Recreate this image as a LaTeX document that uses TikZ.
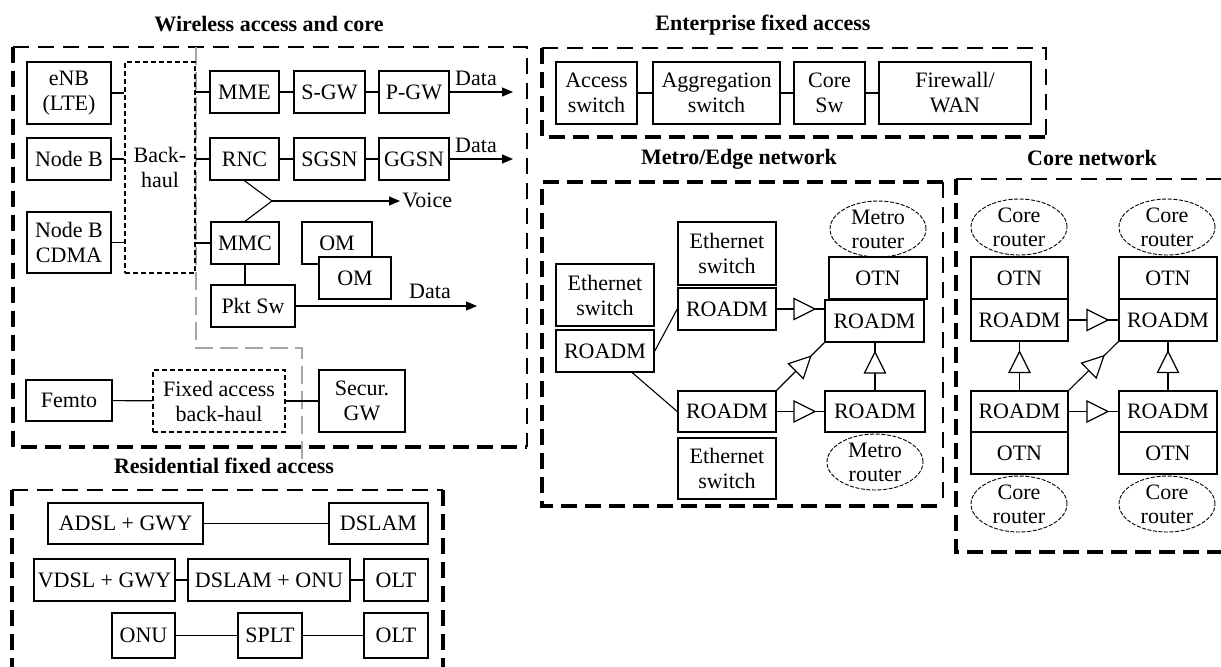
\documentclass[tikz,border=0pt]{standalone}
\usepackage{fontspec}
\setmainfont{Liberation Serif}
\usetikzlibrary{shapes.geometric,arrows.meta,calc}
\newcommand{\mybox}[7][bx]{\node[#1, minimum width={(#5-#3)*0.5pt}, minimum height={(#6-#4)*0.5pt}] (#2) at ({(#3+#5)/2},{(#4+#6)/2}) {#7};}
\begin{document}
\begin{tikzpicture}[x=0.5pt,y=-0.5pt, font=\fontsize{11}{12.5}\selectfont,
  bx/.style={draw, line width=0.75pt, align=center, inner sep=0pt},
  dbx/.style={draw, line width=0.6pt, dash pattern=on 2.5pt off 1.5pt, align=center, inner sep=0pt},
  ttl/.style={font=\fontsize{11}{13.5}\selectfont\bfseries, anchor=base, inner sep=0pt},
  lbl/.style={anchor=base, inner sep=0pt},
  lnk/.style={line width=0.55pt},
  arr/.style={line width=0.55pt, -{Triangle[length=5.5pt,width=4.5pt]}},
  thk/.style={line width=1.7pt, dash pattern=on 8pt off 4pt},
  thn/.style={line width=0.8pt, dash pattern=on 8pt off 4.5pt},
  gry/.style={line width=1.4pt, draw=black!35, dash pattern=on 9pt off 3.5pt},
  ell/.style={ellipse, draw, line width=0.45pt, dash pattern=on 2pt off 0.8pt, inner sep=0pt, minimum width=48pt, minimum height=28pt},
  etx/.style={align=center, inner sep=0pt, font=\fontsize{11}{12}\selectfont},
  amp/.style={isosceles triangle, draw, fill=white, line width=0.6pt, inner sep=0pt, minimum width=10.5pt, minimum height=10.5pt, isosceles triangle stretches, sloped, pos=0.5},
]
\path[use as bounding box] (0,0) rectangle (1221,666);
\clip (0,0) rectangle (1221,666);

% ---------- group frames ----------
\draw[thn] (13,47) -- (527,47) -- (527,447);
\draw[thk] (13,47) -- (13,447) -- (527,447);
\draw[gry] (196,47) -- (196,348) -- (302,348) -- (302,460);
\draw[thn] (542,48) -- (1046,48) -- (1046,137);
\draw[thk] (542,48) -- (542,137) -- (1046,137);
\draw[thk] (943,182) -- (542,182) -- (542,506) -- (943,506);
\draw[thn] (943,182) -- (943,506);
\draw[thn] (956,179) -- (1240,179);
\draw[thk] (956,179) -- (956,552) -- (1240,552);
\draw[thn] (12,490) -- (443,490);
\draw[thk] (12,490) -- (12,690);
\draw[thk] (443,490) -- (443,690);

% ---------- titles ----------
\node[ttl] (t1) at (269,31) {Wireless access and core};
\node[ttl] (t2) at (763,30) {Enterprise fixed access};
\node[ttl] (t3) at (739,164) {Metro/Edge network};
\node[ttl] (t4) at (1092,165) {Core network};
\node[ttl] (t5) at (224,473) {Residential fixed access};

% ---------- wireless access and core ----------
\mybox{enb}{27}{62}{111}{124}{eNB\\(LTE)}
\mybox{nb}{27}{138}{111}{180}{Node B}
\mybox{nbc}{27}{212}{111}{273}{Node B\\CDMA}
\mybox[dbx]{bh}{125}{62}{195}{273}{Back-\\haul}
\mybox{mme}{210}{71}{279}{113}{MME}
\mybox{sgw}{294}{71}{365}{113}{S-GW}
\mybox{pgw}{379}{71}{449}{113}{P-GW}
\mybox{rnc}{210}{138}{279}{180}{RNC}
\mybox{sgsn}{294}{138}{365}{180}{SGSN}
\mybox{ggsn}{379}{138}{449}{180}{GGSN}
\mybox{mmc}{211}{222}{279}{264}{MMC}
\mybox{pkt}{211}{285}{295}{327}{Pkt Sw}
\mybox{omA}{302}{222}{372}{264}{OM}
\mybox[bx,fill=white]{omB}{319}{257}{391}{299}{OM}
\mybox{femto}{26}{380}{112}{421}{Femto}
\mybox[dbx]{fab}{153}{370}{285}{432}{Fixed access\\back-haul}
\mybox{secgw}{319}{370}{405}{432}{Secur.\\GW}

\draw[lnk] (enb.east) -- (enb.east -| bh.west);
\draw[lnk] (nb.east) -- (nb.east -| bh.west);
\draw[lnk] (nbc.east) -- (nbc.east -| bh.west);
\draw[lnk] (mme.west -| bh.east) -- (mme.west);
\draw[lnk] (rnc.west -| bh.east) -- (rnc.west);
\draw[lnk] (mmc.west -| bh.east) -- (mmc.west);
\draw[lnk] (mme) -- (sgw);
\draw[lnk] (sgw) -- (pgw);
\draw[lnk] (rnc) -- (sgsn);
\draw[lnk] (sgsn) -- (ggsn);
\coordinate (d1) at (513,92);
\coordinate (d2) at (513,159);
\coordinate (d3) at (477,306);
\coordinate (vj) at (272,201);
\coordinate (vo) at (400,201);
\draw[arr] (pgw.east) -- (d1);
\draw[arr] (ggsn.east) -- (d2);
\draw[lnk] (rnc.south) -- (vj) -- (mmc.north);
\draw[arr] (vj) -- (vo);
\draw[lnk] (mmc.south) -- (mmc.south |- pkt.north);
\draw[arr] (pkt.east) -- (d3);
\draw[lnk] (femto) -- (fab);
\draw[lnk] (fab) -- (secgw);
\node[lbl] (dl1) at (476,85) {Data};
\node[lbl] (dl2) at (476,152) {Data};
\node[lbl] (dl3) at (430,298) {Data};
\node[lbl, anchor=base west] (vl) at (402,207) {Voice};

% ---------- enterprise ----------
\mybox{acc}{556}{62}{637}{124}{Access\\switch}
\mybox{agg}{653}{62}{780}{124}{Aggregation\\switch}
\mybox{csw}{794}{62}{865}{124}{Core\\Sw}
\mybox{fw}{879}{62}{1031}{124}{Firewall/\\WAN}
\draw[lnk] (acc) -- (agg);
\draw[lnk] (agg) -- (csw);
\draw[lnk] (csw) -- (fw);

% ---------- metro ----------
\mybox{esA}{556}{264}{654}{326}{Ethernet\\switch}
\mybox{rl}{556}{330}{654}{372}{ROADM}
\mybox{esB}{678}{222}{776}{285}{Ethernet\\switch}
\mybox{rtm}{678}{288}{776}{330}{ROADM}
\mybox{otnm}{829}{257}{927}{299}{OTN}
\mybox{rr}{825}{300}{924}{342}{ROADM}
\mybox{rbm}{678}{391}{776}{432}{ROADM}
\mybox{esC}{678}{438}{776}{499}{Ethernet\\switch}
\mybox{rbr}{825}{391}{925}{432}{ROADM}
\node[ell] (mrA) at (878,229) {};
\node[etx] (mrAt) at (mrA) {Metro\\router};
\node[ell] (mrB) at (875,462) {};
\node[etx] (mrBt) at (mrB) {Metro\\router};
\draw[lnk] (rl.east) -- (rtm.west);
\draw[lnk] ($(rl.south)!0.55!(rl.south east)$) -- (rbm.west);
\draw[lnk] (rtm.east) -- node[amp]{} (rtm.east -| rr.west);
\draw[lnk] (rbm.east) -- node[amp]{} (rbr.west);
\draw[lnk] (rbm.north east) -- node[amp]{} (rr.south west);
\draw[lnk] (rbr.north) -- node[amp]{} (rbr.north |- rr.south);

% ---------- core ----------
\node[ell] (crA) at (1019,227) {};
\node[etx] (crAt) at (crA) {Core\\router};
\node[ell] (crB) at (1167,227) {};
\node[etx] (crBt) at (crB) {Core\\router};
\node[ell] (crC) at (1019,504) {};
\node[etx] (crCt) at (crC) {Core\\router};
\node[ell] (crD) at (1167,504) {};
\node[etx] (crDt) at (crD) {Core\\router};
\mybox{cotnA}{971}{257}{1068}{299}{OTN}
\mybox{crdA}{971}{299}{1068}{341}{ROADM}
\mybox{cotnB}{1119}{257}{1217}{299}{OTN}
\mybox{crdB}{1119}{299}{1217}{341}{ROADM}
\mybox{crdC}{971}{391}{1068}{432}{ROADM}
\mybox{cotnC}{971}{432}{1068}{474}{OTN}
\mybox{crdD}{1119}{391}{1217}{432}{ROADM}
\mybox{cotnD}{1119}{432}{1217}{474}{OTN}
\draw[lnk] (crdA.east) -- node[amp]{} (crdB.west);
\draw[lnk] (crdC.east) -- node[amp]{} (crdD.west);
\draw[lnk] (crdC.north) -- node[amp]{} (crdA.south);
\draw[lnk] (crdD.north) -- node[amp]{} (crdB.south);
\draw[lnk] (crdC.north east) -- node[amp]{} (crdB.south west);

% ---------- residential ----------
\mybox{adsl}{48}{503}{203}{544}{ADSL + GWY}
\mybox{dslam}{329}{503}{428}{544}{DSLAM}
\mybox{vdsl}{34}{559}{175}{601}{VDSL + GWY}
\mybox{dsonu}{188}{559}{350}{601}{DSLAM + ONU}
\mybox{oltA}{364}{559}{428}{601}{OLT}
\mybox{onu}{112}{613}{175}{658}{ONU}
\mybox{splt}{238}{613}{302}{658}{SPLT}
\mybox{oltB}{364}{613}{428}{658}{OLT}
\draw[lnk] (adsl) -- (dslam);
\draw[lnk] (vdsl) -- (dsonu);
\draw[lnk] (dsonu) -- (oltA);
\draw[lnk] (onu) -- (splt);
\draw[lnk] (splt) -- (oltB);
\end{tikzpicture}
\end{document}
